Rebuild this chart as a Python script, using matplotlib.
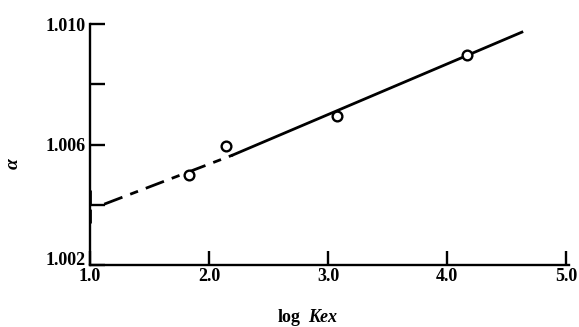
import numpy as np
import matplotlib.pyplot as plt

# measured points
log_kex = [1.83, 2.14, 3.08, 4.17]
alpha = [1.0050, 1.00595, 1.00695, 1.00897]

# fitted line, solid part and dashed extrapolation
solid_x = [2.2, 4.63]
solid_y = [1.00565, 1.00973]
dash_x = [1.12, 2.2]
dash_y = [1.00402, 1.00565]
hook_x = [1.0, 1.0]
hook_y = [1.0034, 1.0045]

xticks = [1.0, 2.0, 3.0, 4.0, 5.0]
xlabels = ['1.0', '2.0', '3.0', '4.0', '5.0']
yticks = [1.002, 1.004, 1.006, 1.008, 1.010]
ylabels = ['1.002', '', '1.006', '', '1.010']

plt.rcParams['font.family'] = ['Liberation Serif', 'DejaVu Serif']

fig = plt.figure(figsize=(5.79, 3.27), dpi=100)
ax = fig.add_axes([0.1554, 0.1896, 0.822, 0.737])

ax.plot(solid_x, solid_y, 'k-', lw=2.0)
ax.plot(dash_x, dash_y, 'k-', lw=2.0, dashes=[7, 3, 3, 3])
ax.plot(hook_x, hook_y, 'k-', lw=2.0, dashes=[5, 2], clip_on=False)
ax.plot(log_kex, alpha, 'o', ms=7, mfc='white', mec='black', mew=1.7, zorder=3)

ax.set_xlim(1.0, 5.0)
ax.set_ylim(1.002, 1.010)
ax.set_xticks(xticks)
ax.set_xticklabels(xlabels, fontsize=13, fontweight='bold')
ax.set_yticks(yticks)
ax.set_yticklabels(ylabels, fontsize=13, fontweight='bold')
ylab = ax.get_yticklabels()
for t in ylab:
    t.set_verticalalignment('center_baseline')
ylab[0].set_verticalalignment('baseline')

for s in ['top', 'right']:
    ax.spines[s].set_visible(False)
for s in ['left', 'bottom']:
    ax.spines[s].set_linewidth(1.7)
ax.spines['bottom'].set_bounds(1.0, 5.03)

ax.tick_params(axis='y', direction='in', length=11, width=1.7, pad=3)
ax.tick_params(axis='x', direction='in', length=10, width=1.7, pad=2)

# axis titles
fig.text(301 / 579, 1 - 322 / 327, 'log', ha='right', va='baseline',
         fontsize=13, fontweight='bold')
fig.text(308 / 579, 1 - 322 / 327, 'Kex', ha='left', va='baseline',
         fontsize=13, fontweight='bold', fontstyle='italic')
fig.text(13 / 579, 1 - 164 / 327, 'α', ha='center', va='center', rotation=90,
         fontsize=14, fontweight='bold', fontstyle='italic')

fig.savefig('out.png', dpi=100)
